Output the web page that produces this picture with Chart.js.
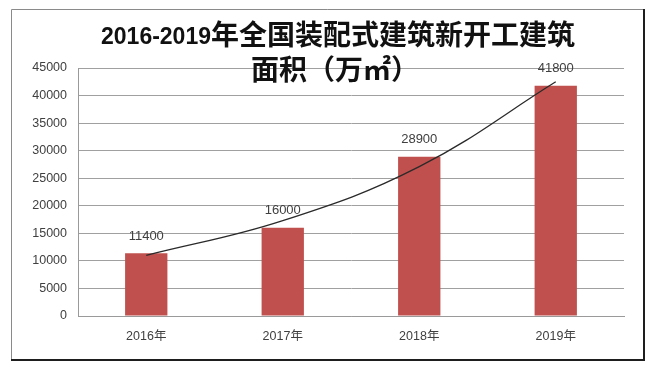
<!DOCTYPE html>
<html>
<head>
<meta charset="utf-8">
<script src="https://cdn.jsdelivr.net/npm/chart.js@4/dist/chart.umd.min.js"></script>
<style>
  html, body { margin: 0; padding: 0; background: #ffffff; }
  #wrap { width: 656px; height: 370px; position: relative; }
</style>
</head>
<body>
<div id="wrap"><canvas id="c"></canvas></div>
<script>
// ---- data ----
const categories = ['2016年', '2017年', '2018年', '2019年'];
const areaValues = [11400, 16000, 28900, 41800];
// trend line heights at each category
const trendValues = [11000, 17300, 27100, 42500];
const yMin = 0, yMax = 45000, yStep = 5000;
const titleNum = '2016-2019';
const titleCjk = '年全国装配式建筑新开工建筑';
const titleLine2 = '面积（万㎡）';

const framePlugin = {
  id: 'frame',
  beforeDraw(chart) {
    const ctx = chart.ctx;
    ctx.save();
    ctx.fillStyle = '#ffffff';
    ctx.fillRect(0, 0, chart.width, chart.height);
    ctx.strokeStyle = '#8a8a8a';
    ctx.lineWidth = 1;
    ctx.beginPath();
    ctx.moveTo(11.5, 360);
    ctx.lineTo(11.5, 9.5);
    ctx.lineTo(644, 9.5);
    ctx.stroke();
    ctx.strokeStyle = '#1e1e1e';
    ctx.lineWidth = 2;
    ctx.beginPath();
    ctx.moveTo(644, 9);
    ctx.lineTo(644, 360);
    ctx.lineTo(11, 360);
    ctx.stroke();
    ctx.restore();
  }
};

const labelPlugin = {
  id: 'labels',
  afterDatasetsDraw(chart) {
    const ctx = chart.ctx;
    const meta = chart.getDatasetMeta(1);
    ctx.save();
    ctx.font = '13px "Liberation Sans", sans-serif';
    ctx.fillStyle = '#404040';
    ctx.textAlign = 'center';
    ctx.textBaseline = 'middle';
    meta.data.forEach((bar, i) => {
      ctx.fillText(String(areaValues[i]), bar.x, bar.y - 17);
    });
    ctx.restore();
  }
};

const titlePlugin = {
  id: 'bigTitle',
  afterDraw(chart) {
    const ctx = chart.ctx;
    ctx.save();
    ctx.fillStyle = '#111111';
    ctx.textBaseline = 'alphabetic';
    ctx.textAlign = 'left';
    const fNum = 'bold 23px "Liberation Sans", sans-serif';
    const fCjk = 'bold 28px "Noto Sans CJK SC", sans-serif';
    ctx.font = fNum;
    const w1 = ctx.measureText(titleNum).width;
    ctx.font = fCjk;
    const w2 = ctx.measureText(titleCjk).width;
    const cx = 338;
    let x = cx - (w1 + w2) / 2;
    ctx.font = fNum;
    ctx.fillText(titleNum, x, 44);
    ctx.font = fCjk;
    ctx.fillText(titleCjk, x + w1, 45);
    ctx.textAlign = 'center';
    ctx.fillText(titleLine2, 335, 80);
    ctx.restore();
  }
};

new Chart(document.getElementById('c'), {
  data: {
    labels: categories,
    datasets: [
      {
        type: 'line',
        label: 'trend',
        data: trendValues,
        borderColor: '#2a2a2a',
        borderWidth: 1.3,
        pointRadius: 0,
        tension: 0.4,
        fill: false,
        order: 0
      },
      {
        type: 'bar',
        label: '新开工建筑面积',
        data: areaValues,
        backgroundColor: '#C0504D',
        borderWidth: 0,
        barPercentage: 0.31,
        categoryPercentage: 1.0,
        order: 1
      }
    ]
  },
  options: {
    responsive: true,
    maintainAspectRatio: false,
    devicePixelRatio: 1,
    animation: false,
    layout: { padding: { left: 0, top: 68, right: 32, bottom: 0 } },
    plugins: {
      legend: { display: false },
      title: { display: false },
      tooltip: { enabled: false }
    },
    scales: {
      x: {
        grid: { display: false, drawTicks: false },
        border: { display: true, color: '#9a9a9a', width: 1 },
        ticks: {
          padding: 13,
          color: '#404040',
          font: { family: '"Liberation Sans", "Noto Sans CJK SC", sans-serif', size: 12.5 }
        },
        afterFit(s) { s.height = 54; }
      },
      y: {
        min: yMin,
        max: yMax,
        ticks: {
          stepSize: yStep,
          padding: 11,
          color: '#404040',
          font: { family: '"Liberation Sans", sans-serif', size: 12.5 },
          callback: (v) => String(v)
        },
        grid: { color: '#a0a0a0', lineWidth: 1, drawTicks: false },
        border: { display: true, color: '#9a9a9a', width: 1 },
        afterFit(s) { s.width = 78; }
      }
    }
  },
  plugins: [framePlugin, labelPlugin, titlePlugin]
});
</script>
</body>
</html>
